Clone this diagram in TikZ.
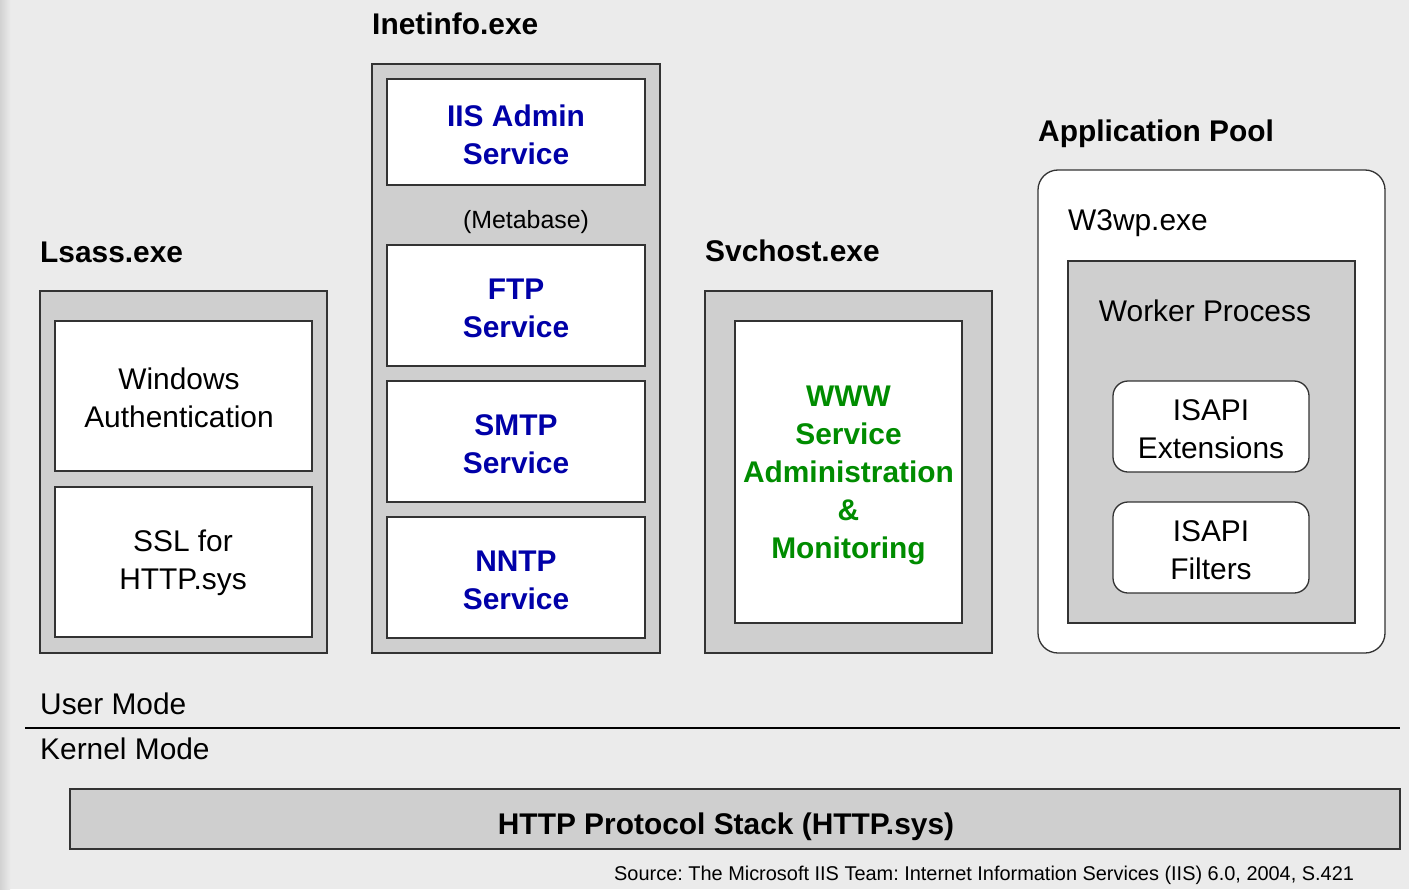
\documentclass[tikz,border=0pt]{standalone}
\usepackage{fontspec}
\setmainfont{Liberation Sans}
\frenchspacing
\definecolor{bg}{HTML}{EBEBEB}
\definecolor{strip}{HTML}{D2D2D2}
\definecolor{boxgray}{HTML}{CFCFCF}
\definecolor{edge}{HTML}{333333}
\definecolor{iisblue}{HTML}{0000A8}
\definecolor{wwwgreen}{HTML}{008C00}
\newcommand\tup[1][27bp]{\rule{0pt}{#1}}
\tikzset{
  box/.style={draw=edge, line width=1.3bp, inner sep=0pt, align=center},
  graybox/.style={box, fill=boxgray},
  whitebox/.style={box, fill=white, font=\fontsize{30}{38}\selectfont},
  svcbox/.style={whitebox, text=iisblue, font=\fontsize{30}{38}\selectfont\bfseries},
  wwwbox/.style={whitebox, text=wwwgreen, font=\fontsize{30}{38}\selectfont\bfseries},
  title/.style={anchor=base west, inner sep=0pt, font=\fontsize{30}{36}\selectfont\bfseries},
  plain/.style={inner sep=0pt, font=\fontsize{30}{36}\selectfont},
}
\begin{document}
\begin{tikzpicture}[x=1bp, y=-1bp]
\useasboundingbox (0,0) rectangle (1409,889);
\fill[bg] (0,0) rectangle (1409,889);
\shade[left color=strip, right color=bg!95!strip] (0,0) rectangle (10,889);

% Lsass
\node[title] (lsasslbl) at (40,262) {Lsass.exe};
\node[graybox, minimum width=287bp, minimum height=362bp] (lsass) at (183.5,472) {};
\node[whitebox, minimum width=257bp, minimum height=150bp] (winauth) at (183.5,396) {};
\node[plain, align=center, font=\fontsize{30}{38}\selectfont] (winauthtxt) at (179,398) {Windows\\Authentication};
\node[whitebox, minimum width=257bp, minimum height=150bp] (ssl) at (183.5,562) {};
\node[plain, align=center, font=\fontsize{30}{38}\selectfont] (ssltxt) at (183,563) {SSL for\\HTTP.sys};

% Inetinfo
\node[title] (inetlbl) at (372,34) {Inetinfo.exe};
\node[graybox, minimum width=288bp, minimum height=589bp] (inet) at (516,358.5) {};
\node[svcbox, minimum width=258bp, minimum height=106bp] (iisadmin) at (516,132) {\tup[28bp]IIS Admin\\Service};
\node[plain, font=\fontsize{25}{30}\selectfont] (meta) at (526,222) {(Metabase)};
\node[svcbox, minimum width=258bp, minimum height=121bp] (ftp) at (516,305.5) {\tup FTP\\Service};
\node[svcbox, minimum width=258bp, minimum height=121bp] (smtp) at (516,441.5) {\tup SMTP\\Service};
\node[svcbox, minimum width=258bp, minimum height=121bp] (nntp) at (516,577.5) {\tup NNTP\\Service};

% Svchost
\node[title] (svclbl) at (705,261) {Svchost.exe};
\node[graybox, minimum width=287bp, minimum height=362bp] (svchost) at (848.5,472) {};
\node[wwwbox, minimum width=227bp, minimum height=302bp] (www) at (848.5,472) {\tup WWW\\Service\\Administration\\\&\\Monitoring};

% Application pool
\node[title] (apllbl) at (1038,141) {Application Pool};
\node[box, fill=white, rounded corners=20bp, minimum width=347bp, minimum height=483bp] (apppool) at (1211.5,411.5) {};
\node[plain, anchor=base west] (w3wp) at (1068,230) {W3wp.exe};
\node[graybox, minimum width=287bp, minimum height=362bp] (worker) at (1211.5,442) {};
\node[plain] (workerlbl) at (1205,311) {Worker Process};
\node[whitebox, rounded corners=15bp, minimum width=196bp, minimum height=91bp] (isapiext) at (1211,426.5) {\tup ISAPI\\Extensions};
\node[whitebox, rounded corners=15bp, minimum width=196bp, minimum height=91bp] (isapifil) at (1211,547.5) {\tup ISAPI\\Filters};

% Modes
\node[plain, anchor=base west] (user) at (40,714) {User Mode};
\coordinate (sepl) at (25,728);
\coordinate (sepr) at (1400,728);
\draw[line width=2bp, black] (sepl) -- (sepr);
\node[plain, anchor=base west] (kernel) at (40,759) {Kernel Mode};

% HTTP.sys
\node[graybox, minimum width=1330bp, minimum height=60bp] (http) at (735,819) {};
\node[inner sep=0pt, anchor=base, font=\fontsize{30}{36}\selectfont\bfseries] (httptxt) at (726,834) {HTTP Protocol Stack (HTTP.sys)};

\node[inner sep=0pt, anchor=base west, font=\fontsize{20}{24}\selectfont] (src) at (614,880) {Source: The Microsoft IIS Team: Internet Information Services (IIS) 6.0, 2004, S.421};
\end{tikzpicture}
\end{document}
